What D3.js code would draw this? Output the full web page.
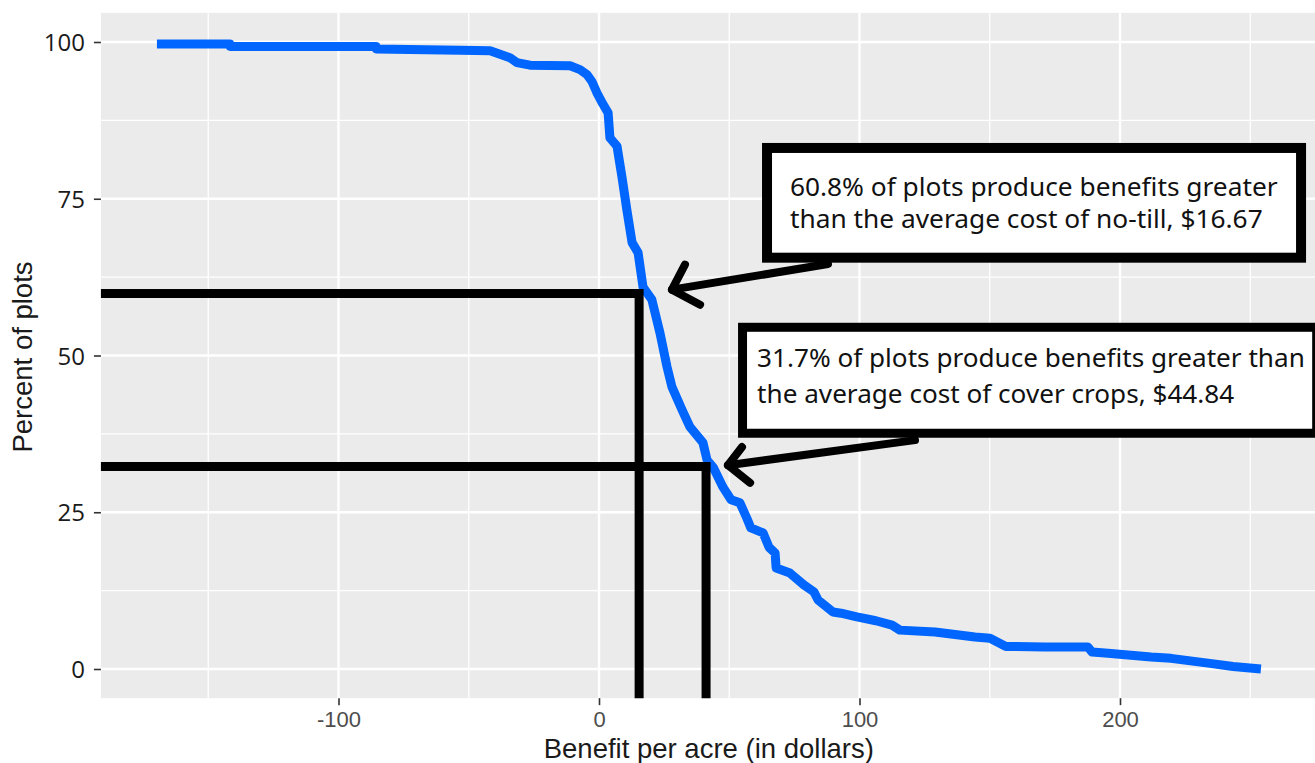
<!DOCTYPE html>
<html>
<head>
<meta charset="utf-8">
<script src="https://cdnjs.cloudflare.com/ajax/libs/d3/7.8.5/d3.min.js"></script>
<style>
  body { margin: 0; background: #fff; font-family: "Liberation Sans", Arial, sans-serif; }
  svg { display: block; }
</style>
</head>
<body>
<div id="my_dataviz"></div>
<script>
// curve: benefit per acre ($) and % of plots above it
var benefit = [-169.7, -141.7, -141.6, -85.6, -85.5, -53.4, -41.8, -34.2, -31.5, -26.5, -11.1,
  -7.3, -4.6, -2.7, -0.8, 1.5, 3.5, 4.2, 6.9, 8.8, 10.7, 12.7, 15.0, 16.9, 20.3, 23.4, 26.1,
  28.0, 31.9, 34.9, 39.9, 41.5, 43.8, 47.6, 50.7, 54.1, 56.8, 58.3, 63.0, 65.3, 67.6, 68.0,
  73.3, 78.7, 82.5, 84.1, 89.8, 92.9, 99.0, 106.3, 112.5, 115.5, 129.0, 144.3, 150.1, 156.2,
  171.2, 187.7, 189.3, 195.4, 204.2, 211.9, 219.6, 234.5, 243.4, 254.1];
var percentPlots = [99.7, 99.7, 99.3, 99.3, 98.9, 98.7, 98.6, 97.5, 96.7, 96.3, 96.2,
  95.6, 94.8, 93.7, 91.9, 90.1, 88.7, 84.7, 83.4, 78.5, 73.2, 68.0, 66.4, 60.9, 58.9, 53.6, 48.2,
  45.0, 41.3, 38.6, 36.1, 33.3, 32.2, 29.0, 27.0, 26.5, 24.0, 22.5, 21.7, 19.4, 18.5, 16.1,
  15.3, 13.4, 12.3, 11.0, 9.1, 8.9, 8.3, 7.7, 7.0, 6.2, 5.9, 5.1, 4.9, 3.6,
  3.5, 3.5, 2.7, 2.5, 2.2, 1.9, 1.7, 0.9, 0.4, 0.0];

var xTicks = [-100, 0, 100, 200];
var xMinor = [-150, -50, 50, 150, 250];
var yTicks = [0, 25, 50, 75, 100];
var yMinor = [12.5, 37.5, 62.5, 87.5];

// hand-drawn guide lines (where they sit in the picture)
var markerCost = [15.4, 41.1];
var markerPct = [59.9, 32.3];

var noteText = [
  ["60.8% of plots produce benefits greater", "than the average cost of no-till, $16.67"],
  ["31.7% of plots produce benefits greater than", "the average cost of cover crops, $44.84"]
];

// annotation layout, in data units
var boxes = [
  {x0: 64.5, x1: 269.5, y0: 65.6, y1: 83.1, tx: 73.3, ty: [75.5, 70.3], w: 488, bw: 10},
  {x0: 55.1, x1: 275.5, y0: 37.6, y1: 54.5, tx: 60.7, ty: [48.2, 42.4], w: 548, bw: 9}
];
var arrows = [
  {tail: [87.9, 64.6], tip: [28.0, 60.5], a: [33.0, 64.5], b: [38.8, 58.1]},
  {tail: [121.3, 36.5], tip: [49.5, 32.5], a: [54.9, 35.4], b: [58.0, 29.7]}
];

var width = 1315, height = 763;
var xLim = [-191.2, 275.5], yLim = [-4.65, 104.65];

var x = d3.scaleLinear().domain([0, 100]).range([599, 859.5]);
var y = d3.scaleLinear().domain([0, 100]).range([669, 42]);

var svg = d3.select("#my_dataviz").append("svg")
  .attr("width", width)
  .attr("height", height);

// panel
svg.append("rect")
  .attr("x", x(xLim[0]))
  .attr("y", y(yLim[1]))
  .attr("width", x(xLim[1]) - x(xLim[0]))
  .attr("height", y(yLim[0]) - y(yLim[1]))
  .attr("fill", "#ebebeb");

var grid = svg.append("g");
grid.selectAll(".vminor").data(xMinor).enter().append("line")
  .attr("x1", d => x(d)).attr("x2", d => x(d))
  .attr("y1", y(yLim[1])).attr("y2", y(yLim[0]))
  .attr("stroke", "#fff").attr("stroke-width", 1.3);
grid.selectAll(".hminor").data(yMinor).enter().append("line")
  .attr("y1", d => y(d)).attr("y2", d => y(d))
  .attr("x1", x(xLim[0])).attr("x2", x(xLim[1]))
  .attr("stroke", "#fff").attr("stroke-width", 1.3);
grid.selectAll(".vmajor").data(xTicks).enter().append("line")
  .attr("x1", d => x(d)).attr("x2", d => x(d))
  .attr("y1", y(yLim[1])).attr("y2", y(yLim[0]))
  .attr("stroke", "#fff").attr("stroke-width", 2.4);
grid.selectAll(".hmajor").data(yTicks).enter().append("line")
  .attr("y1", d => y(d)).attr("y2", d => y(d))
  .attr("x1", x(xLim[0])).attr("x2", x(xLim[1]))
  .attr("stroke", "#fff").attr("stroke-width", 2.4);

// axes
var xAxis = svg.append("g")
  .attr("transform", "translate(0," + y(yLim[0]) + ")")
  .call(d3.axisBottom(x).tickValues(xTicks).tickSize(7).tickPadding(6).tickFormat(d => String(d)));
xAxis.select(".domain").remove();
xAxis.selectAll("line").attr("stroke", "#333").attr("stroke-width", 1.6);
xAxis.selectAll("text").attr("fill", "#4d4d4d")
  .style("font-family", "'Liberation Sans', Arial, sans-serif").style("font-size", "22px");

var yAxis = svg.append("g")
  .attr("transform", "translate(" + x(xLim[0]) + ",0)")
  .call(d3.axisLeft(y).tickValues(yTicks).tickSize(7).tickPadding(9));
yAxis.select(".domain").remove();
yAxis.selectAll("line").attr("stroke", "#333").attr("stroke-width", 1.6);
yAxis.selectAll("text").attr("fill", "#1a1a1a").attr("dy", "0.36em")
  .style("font-family", "'Open Sans', 'Liberation Sans', sans-serif").style("font-size", "24px");

svg.append("text")
  .attr("x", (x(xLim[0]) + x(xLim[1])) / 2)
  .attr("y", 758)
  .attr("text-anchor", "middle")
  .attr("fill", "#1a1a1a")
  .style("font-size", "27.5px")
  .text("Benefit per acre (in dollars)");

svg.append("text")
  .attr("transform", "translate(32," + 357 + ") rotate(-90)")
  .attr("text-anchor", "middle")
  .attr("fill", "#1a1a1a")
  .style("font-size", "27.5px")
  .text("Percent of plots");

// curve
var pts = benefit.map((b, i) => [b, percentPlots[i]]);
svg.append("path")
  .datum(pts)
  .attr("fill", "none")
  .attr("stroke", "#0066ff")
  .attr("stroke-width", 9)
  .attr("stroke-linejoin", "round")
  .attr("d", d3.line().x(d => x(d[0])).y(d => y(d[1])));

// guide lines
var guides = svg.append("g");
markerCost.forEach(function(c, i) {
  guides.append("path")
    .attr("fill", "none")
    .attr("stroke", "#000")
    .attr("stroke-width", 9)
    .attr("d", d3.line()([[x(xLim[0]), y(markerPct[i])], [x(c), y(markerPct[i])], [x(c), y(yLim[0])]]));
});

// arrows
arrows.forEach(function(a) {
  var g = svg.append("g").attr("fill", "none").attr("stroke", "#000")
    .attr("stroke-width", 8).attr("stroke-linecap", "round").attr("stroke-linejoin", "round");
  g.append("path").attr("d", d3.line()([[x(a.tail[0]), y(a.tail[1])], [x(a.tip[0]), y(a.tip[1])]]));
  g.append("path").attr("d", d3.line()([[x(a.a[0]), y(a.a[1])], [x(a.tip[0]), y(a.tip[1])], [x(a.b[0]), y(a.b[1])]]));
});

// note boxes
boxes.forEach(function(b, i) {
  svg.append("rect")
    .attr("x", x(b.x0)).attr("y", y(b.y1))
    .attr("width", x(b.x1) - x(b.x0)).attr("height", y(b.y0) - y(b.y1))
    .attr("fill", "#fff").attr("stroke", "#000").attr("stroke-width", b.bw);
  var t = svg.append("g")
    .style("font-family", "'Noto Sans', 'Open Sans', sans-serif")
    .style("font-size", "22px")
    .attr("fill", "#111");
  noteText[i].forEach(function(line, k) {
    t.append("text").attr("x", x(b.tx)).attr("y", y(b.ty[k])).text(line);
  });
  // size the text to the width it takes in the picture
  var w0 = t.select("text").node().getComputedTextLength();
  t.style("font-size", (22 * b.w / w0).toFixed(2) + "px");
});
</script>
</body>
</html>
